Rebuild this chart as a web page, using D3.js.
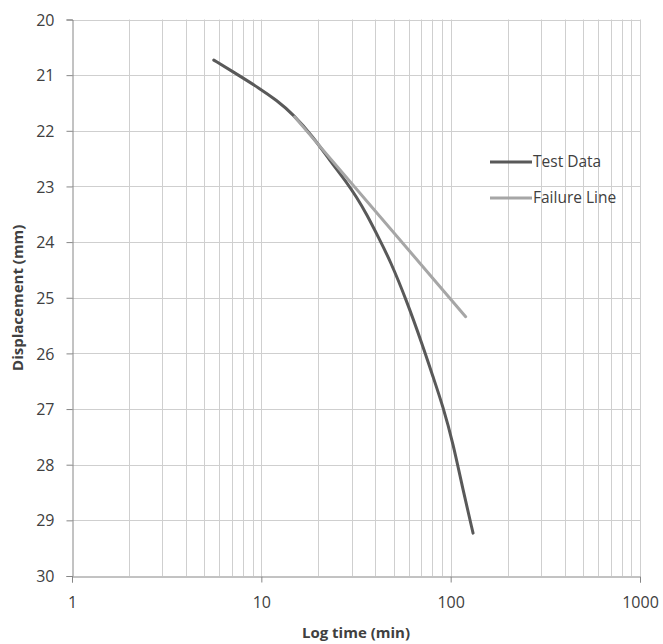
<!DOCTYPE html>
<html lang="en">
<head>
<meta charset="utf-8">
<title>Displacement vs log time</title>
<script src="https://cdn.jsdelivr.net/npm/d3@7"></script>
<style>
  body { margin: 0; background: #fff; }
  text { font-family: "Open Sans", sans-serif; fill: #404040; }
  .grid line { stroke: #cfcfcf; stroke-width: 1; }
</style>
</head>
<body>
<div id="chart"></div>
<script>
  // values
  var testTime = [5.61, 7.09, 9.81, 12.02, 14.71, 18.76, 22.98, 28.15, 31.8, 35.9, 42.2, 47.7, 58.4, 71.5, 80.7, 91.2, 103, 116.3, 131.3];
  var testDisp = [20.73, 20.94, 21.24, 21.45, 21.70, 22.11, 22.53, 22.92, 23.19, 23.49, 23.96, 24.32, 25.04, 25.88, 26.42, 26.96, 27.62, 28.46, 29.23];
  var failTime = [15, 120];
  var failDisp = [21.75, 25.34];
  var seriesNames = ["Test Data", "Failure Line"];
  var xTickLabels = [1, 10, 100, 1000];
  var yTickLabels = [20, 21, 22, 23, 24, 25, 26, 27, 28, 29, 30];

  var width = 663, height = 644;
  var margin = {left: 72, right: 23, top: 19.5, bottom: 68};

  var svg = d3.select("#chart").append("svg")
      .attr("width", width)
      .attr("height", height);

  var x = d3.scaleLog()
      .domain([1, 1000])
      .range([margin.left, width - margin.right]);

  var y = d3.scaleLinear()
      .domain([20, 30])
      .range([margin.top, height - margin.bottom]);

  // minor log gridlines
  var vTicks = [];
  [1, 10, 100].forEach(function(dec) {
    for (var k = 2; k <= 10; k++) vTicks.push(dec * k);
  });

  var grid = svg.append("g").attr("class", "grid");
  grid.selectAll(".v")
      .data(vTicks)
    .enter().append("line")
      .attr("x1", function(d) { return Math.round(x(d)) + 0.5; })
      .attr("x2", function(d) { return Math.round(x(d)) + 0.5; })
      .attr("y1", y(20))
      .attr("y2", y(30));
  grid.selectAll(".h")
      .data(yTickLabels.slice(0, -1))
    .enter().append("line")
      .attr("x1", x(1))
      .attr("x2", x(1000))
      .attr("y1", function(d) { return Math.round(y(d)) + 0.5; })
      .attr("y2", function(d) { return Math.round(y(d)) + 0.5; });

  var xAxis = svg.append("g")
      .attr("transform", "translate(0," + (Math.round(y(30)) + 0.5) + ")")
      .call(d3.axisBottom(x).tickValues(xTickLabels).tickFormat(d3.format("d")).tickSizeOuter(0).tickSize(6).tickPadding(14));

  var yAxis = svg.append("g")
      .attr("transform", "translate(" + (Math.round(x(1)) + 0.5) + ",0)")
      .call(d3.axisLeft(y).tickValues(yTickLabels).tickSizeOuter(0).tickSize(6).tickPadding(12));

  [xAxis, yAxis].forEach(function(a) {
    a.select(".domain").attr("stroke", "#868686");
    a.selectAll(".tick line").attr("stroke", "#868686");
    a.selectAll(".tick text")
      .style("font-family", "'Open Sans', sans-serif")
      .style("font-size", "16px")
      .attr("fill", "#404040");
  });
  yAxis.selectAll(".tick text").attr("dy", "0.35em");

  var line = d3.line()
      .x(function(d) { return x(d[0]); })
      .y(function(d) { return y(d[1]); })
      .curve(d3.curveBasis);

  var testData = d3.zip(testTime, testDisp);
  var failData = d3.zip(failTime, failDisp);

  svg.append("path")
      .datum(testData)
      .attr("fill", "none")
      .attr("stroke", "#595959")
      .attr("stroke-width", 3)
      .attr("stroke-linecap", "round")
      .attr("d", line);

  svg.append("path")
      .datum(failData)
      .attr("fill", "none")
      .attr("stroke", "#a6a6a6")
      .attr("stroke-width", 3)
      .attr("stroke-linecap", "round")
      .attr("d", line);

  // legend
  var colors = ["#595959", "#a6a6a6"];
  var legend = svg.append("g").attr("transform", "translate(490,162)");
  var item = legend.selectAll("g")
      .data(seriesNames)
    .enter().append("g")
      .attr("transform", function(d, i) { return "translate(0," + (i * 36) + ")"; });
  item.append("line")
      .attr("x1", 0).attr("x2", 42)
      .attr("stroke", function(d, i) { return colors[i]; })
      .attr("stroke-width", 3);
  item.append("text")
      .attr("x", 43)
      .attr("dy", "0.35em")
      .style("font-size", "15.5px")
      .text(function(d) { return d; });

  // axis titles
  svg.append("text")
      .attr("x", (x(1) + x(1000)) / 2)
      .attr("y", 638)
      .attr("text-anchor", "middle")
      .style("font-size", "15px")
      .style("font-weight", "bold")
      .text("Log time (min)");

  svg.append("text")
      .attr("transform", "translate(23," + ((y(20) + y(30)) / 2) + ") rotate(-90)")
      .attr("text-anchor", "middle")
      .style("font-size", "15px")
      .style("font-weight", "bold")
      .text("Displacement (mm)");
</script>
</body>
</html>
